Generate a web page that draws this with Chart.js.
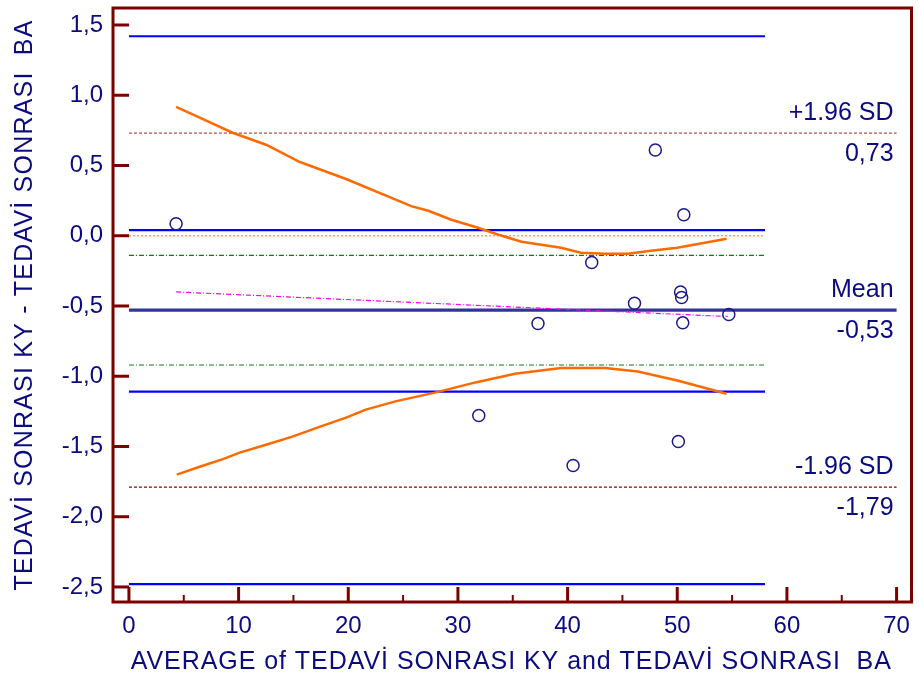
<!DOCTYPE html>
<html><head><meta charset="utf-8">
<script src="https://cdn.jsdelivr.net/npm/chart.js@4.4.0/dist/chart.umd.min.js"></script>
<style>html,body{margin:0;padding:0;background:#fff;} #wrap{width:919px;height:682px;}</style>
</head><body><div id="wrap"><canvas id="c" width="919" height="682"></canvas></div>
<script>
// ---- data ----
const avgX  = [4.3, 48.0, 50.6, 42.2, 46.1, 50.3, 50.4, 37.3, 50.5, 54.7, 31.9, 50.1, 40.5];
const diffY = [0.085, 0.61, 0.15, -0.19, -0.48, -0.40, -0.44, -0.625, -0.62, -0.56, -1.28, -1.465, -1.635];

const meanDiff = -0.53;
const upperLoA = 0.73;
const lowerLoA = -1.79;
const meanCI  = [-0.92, -0.14];
const upperCI = [0.04, 1.42];
const lowerCI = [-2.48, -1.11];

const shortLineX = [0, 58];
const longLineX  = [0, 70];

const regX = [4.3, 54.6];
const regY = [-0.40, -0.575];

const bandUpX = [4.3, 6.45, 9.45, 12.5, 13.7, 15.5, 16.7, 19.8, 25.8, 27.3, 29.4, 31.9, 33.7, 35.8, 39.4, 41.2, 43.4, 45.5, 47.6, 50.0, 54.5];
const bandUpY = [0.918, 0.84, 0.733, 0.648, 0.60, 0.528, 0.493, 0.404, 0.209, 0.178, 0.114, 0.055, 0.007, -0.043, -0.085, -0.121, -0.128, -0.128, -0.107, -0.085, -0.022];
const bandLoX = [4.36, 6.45, 8.57, 10.1, 12.5, 14.9, 17.05, 19.8, 21.6, 24.3, 28.0, 31.6, 35.2, 39.4, 43.4, 46.4, 50.0, 54.5];
const bandLoY = [-1.70, -1.644, -1.59, -1.544, -1.488, -1.43, -1.369, -1.295, -1.238, -1.179, -1.115, -1.044, -0.982, -0.942, -0.942, -0.966, -1.03, -1.125];

const xTicks = [0, 10, 20, 30, 40, 50, 60, 70];
const xMinorTicks = [5, 15, 25, 35, 45, 55, 65];
const yTicks = [-2.5, -2.0, -1.5, -1.0, -0.5, 0.0, 0.5, 1.0, 1.5];

const xTitle = 'AVERAGE of TEDAVİ SONRASI KY and TEDAVİ SONRASI  BA';
const yTitle = 'TEDAVİ SONRASI KY - TEDAVİ SONRASI  BA';
const sideLabels = [
  {value: upperLoA, above: '+1.96 SD', below: '0,73'},
  {value: meanDiff, above: 'Mean', below: '-0,53'},
  {value: lowerLoA, above: '-1.96 SD', below: '-1,79'}
];

// ---- styles ----
const NAVY = '#0b0b80';
const FRAME = '#7d0000';
const FONT = '"Liberation Sans", Arial, sans-serif';

function hline(xs, yv) { return xs.map(x => ({x: x, y: yv})); }
function pts(xs, ys) { return xs.map((x, i) => ({x: x, y: ys[i]})); }

function lineDs(data, color, width, dash) {
  return {type: 'line', data: data, borderColor: color, borderWidth: width, borderDash: dash || [],
    pointRadius: 0, fill: false, tension: 0, showLine: true};
}

const datasets = [
  {type: 'scatter', data: pts(avgX, diffY), pointStyle: 'circle', pointRadius: 6,
   pointBorderWidth: 1.5, borderColor: '#1a1a8c', backgroundColor: 'rgba(255,255,255,0)', showLine: false},
  lineDs(pts(bandUpX, bandUpY), '#ff6a00', 2.5),
  lineDs(pts(bandLoX, bandLoY), '#ff6a00', 2.5),
  lineDs(pts(regX, regY), '#ff00ff', 1.2, [5, 2, 1, 2]),
  lineDs(hline(longLineX, meanDiff), '#333399', 3.2),
  lineDs(hline(longLineX, upperLoA), '#b05050', 1.2, [3, 2]),
  lineDs(hline(longLineX, lowerLoA), '#8b0000', 1.2, [3, 2]),
  lineDs(hline(shortLineX, meanCI[0]), '#0f7a0f', 1.2, [5, 2, 1, 2]),
  lineDs(hline(shortLineX, meanCI[1]), '#0f7a0f', 1.2, [5, 2, 1, 2]),
  lineDs(hline(shortLineX, 0), '#ffa060', 1.5, [2, 2]),
  lineDs(hline(shortLineX, upperCI[0]), '#0000ff', 2.2),
  lineDs(hline(shortLineX, upperCI[1]), '#0000ff', 2.2),
  lineDs(hline(shortLineX, lowerCI[0]), '#0000ff', 2.2),
  lineDs(hline(shortLineX, lowerCI[1]), '#0000ff', 2.2)
];

const framePlugin = {
  id: 'frame',
  afterDraw(chart) {
    const {ctx, chartArea: a, scales: {x, y}} = chart;
    ctx.save();
    ctx.strokeStyle = FRAME;
    ctx.lineWidth = 3;
    ctx.lineCap = 'butt';
    ctx.strokeRect(a.left, a.top, a.right - a.left, a.bottom - a.top);
    const seg = (x1, y1, x2, y2) => { ctx.beginPath(); ctx.moveTo(x1, y1); ctx.lineTo(x2, y2); ctx.stroke(); };
    yTicks.forEach(v => { const py = y.getPixelForValue(v); seg(a.left, py, a.left + 16, py); });
    xTicks.forEach(v => { const px = x.getPixelForValue(v); seg(px, a.bottom, px, a.bottom - 15); });
    ctx.lineWidth = 2;
    xMinorTicks.forEach(v => { const px = x.getPixelForValue(v); seg(px, a.bottom, px, a.bottom - 7); });
    // side labels
    ctx.fillStyle = NAVY;
    ctx.font = '25px ' + FONT;
    ctx.textAlign = 'right';
    ctx.textBaseline = 'middle';
    const rx = x.getPixelForValue(70) - 3;
    sideLabels.forEach(s => {
      const py = y.getPixelForValue(s.value);
      ctx.fillText(s.above, rx, py - 20);
      ctx.fillText(s.below, rx, py + 21);
    });
    // axis titles
    ctx.font = '25px ' + FONT;
    ctx.textAlign = 'center';
    try { ctx.letterSpacing = '0.95px'; } catch (e) {}
    ctx.fillText(xTitle, (a.left + a.right) / 2 - 1, 662);
    ctx.save();
    ctx.translate(25, (a.top + a.bottom) / 2);
    ctx.rotate(-Math.PI / 2);
    try { ctx.letterSpacing = '1.2px'; } catch (e) {}
    ctx.fillText(yTitle, 0, 0);
    ctx.restore();
    ctx.restore();
  }
};

new Chart(document.getElementById('c'), {
  data: {datasets: datasets},
  options: {
    responsive: false,
    animation: false,
    devicePixelRatio: 1,
    layout: {padding: {top: 8, right: 4, left: 0, bottom: 0}},
    plugins: {legend: {display: false}, tooltip: {enabled: false}},
    scales: {
      x: {
        type: 'linear', position: 'bottom',
        min: -1.453, max: 71.36,
        grid: {display: false, drawTicks: false},
        border: {display: false},
        afterBuildTicks: s => { s.ticks = xTicks.map(v => ({value: v})); },
        afterFit: s => { s.height = 80; s.paddingLeft = 0; s.paddingRight = 0; },
        ticks: {autoSkip: false, maxRotation: 0, padding: 10, color: NAVY,
          font: {family: FONT, size: 24}, callback: v => String(v)},
        title: {display: false}
      },
      y: {
        type: 'linear', position: 'left',
        min: -2.607, max: 1.621,
        grid: {display: false, drawTicks: false},
        border: {display: false},
        afterBuildTicks: s => { s.ticks = yTicks.map(v => ({value: v})); },
        afterFit: s => { s.width = 113; s.paddingTop = 0; s.paddingBottom = 0; },
        ticks: {autoSkip: false, padding: 10, color: NAVY,
          font: {family: FONT, size: 24}, callback: v => Number(v).toFixed(1).replace('.', ',')},
        title: {display: false}
      }
    }
  },
  plugins: [framePlugin]
});
</script>
</body></html>
